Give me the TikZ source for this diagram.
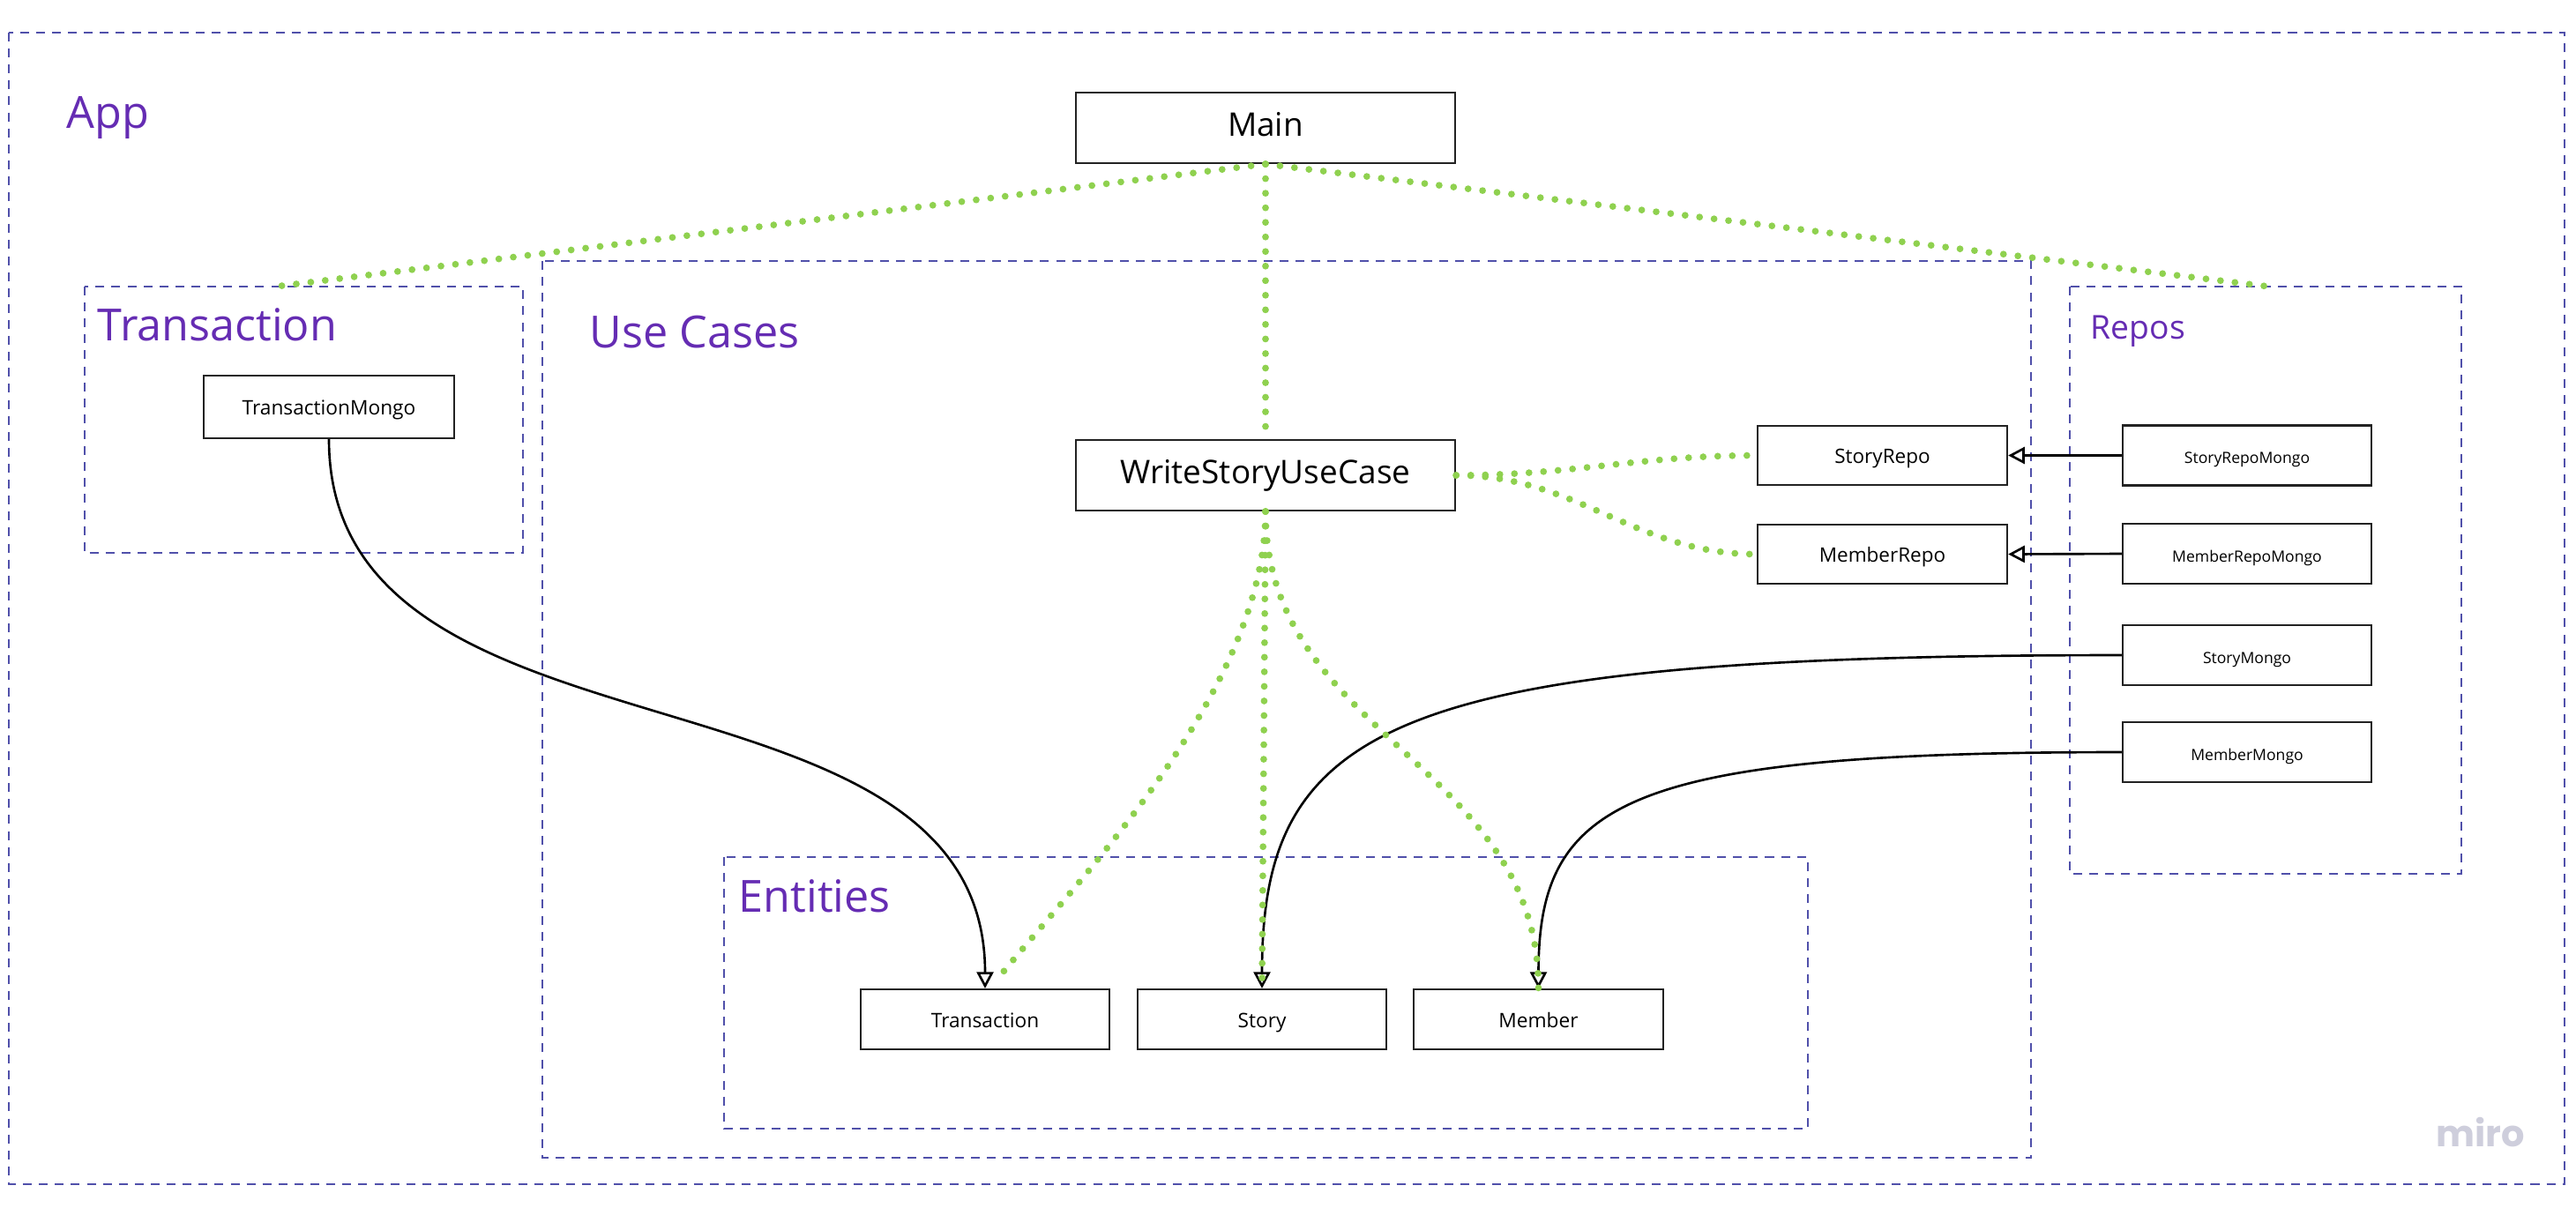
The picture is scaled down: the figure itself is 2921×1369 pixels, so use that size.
\documentclass[tikz,border=0pt]{standalone}
\usepackage{fontspec}
\setmainfont{Open Sans}
\newfontfamily\wmfont{Poppins}
\usetikzlibrary{arrows.meta}
\definecolor{grp}{RGB}{80,80,170}
\definecolor{lab}{RGB}{101,44,179}
\definecolor{grn}{RGB}{143,209,79}
\definecolor{bdr}{RGB}{34,34,34}
\definecolor{wm}{RGB}{206,206,220}
\begin{document}
\begin{tikzpicture}[x=0.01cm,y=-0.01cm,
  group/.style={draw=grp, line width=0.6pt, dash pattern=on 2.85pt off 2.3pt},
  grplabel/.style={text=lab, anchor=base west, inner sep=0pt, font=\fontsize{14.3}{16}\selectfont},
  basebox/.style={draw=bdr, line width=0.6pt, fill=white, inner sep=0pt, text height=0.72em, text depth=0.2em},
  bigbox/.style={basebox, minimum width=4.30cm, minimum height=0.80cm, font=\fontsize{10.5}{12}\selectfont},
  repobox/.style={basebox, minimum width=2.83cm, minimum height=0.67cm, font=\fontsize{6.4}{8}\selectfont},
  mongobox/.style={basebox, minimum width=2.82cm, minimum height=0.68cm, font=\fontsize{5.0}{6}\selectfont},
  entbox/.style={basebox, minimum width=2.82cm, minimum height=0.68cm, font=\fontsize{6.45}{8}\selectfont},
  dep/.style={draw=black, line width=0.75pt, -{Triangle[length=5.3pt, width=5.4pt, fill=white]}},
  greendot/.style={draw=grn, line width=2.2pt, line cap=round, dash pattern=on 0pt off 4.7pt}
]
\useasboundingbox (0,0) rectangle (2921,1369);
\fill[white] (0,0) rectangle (2921,1369);

% containers
\draw[group] (10,37) rectangle (2908,1343);
\draw[group] (96,325) rectangle (593,627);
\draw[group] (615,296) rectangle (2303,1313);
\draw[group] (821,972) rectangle (2050,1280);
\draw[group] (2347,325) rectangle (2791,991);

% container labels
\node[grplabel] (lapp) at (75,145) {App};
\node[grplabel] (ltr) at (110,386) {Transaction};
\node[grplabel] (luc) at (668,394) {Use Cases};
\node[grplabel] (lent) at (837,1034) {Entities};
\node[grplabel, font=\fontsize{10.6}{12}\selectfont] (lrep) at (2370,384) {Repos};

% boxes
\node[bigbox] (main) at (1435,145) {Main};
\node[bigbox] (wsuc) at (1435,539) {WriteStoryUseCase};
\node[repobox] (sr) at (2134.5,516.5) {StoryRepo};
\node[repobox] (mr) at (2134.5,628.5) {MemberRepo};
\node[mongobox] (srm) at (2548,516.5) {StoryRepoMongo};
\node[mongobox] (mrm) at (2548,628) {MemberRepoMongo};
\node[mongobox] (sm) at (2548,743) {StoryMongo};
\node[mongobox] (mm) at (2548,853) {MemberMongo};
\node[entbox, minimum width=2.84cm, minimum height=0.71cm] (tm) at (373,461.5) {TransactionMongo};
\node[entbox] (ten) at (1117,1156) {Transaction};
\node[entbox] (story) at (1431,1156) {Story};
\node[entbox] (member) at (1744.5,1156) {Member};

\coordinate (trtop) at (312,325);
\coordinate (rptop) at (2573,325);
\coordinate (trend) at (1137,1103);

% black dependencies
\draw[dep] (srm.west) -- (sr.east);
\draw[dep] (mrm.west) -- (mr.east);
\draw[dep] (tm.south) .. controls +(0,389) and +(0,-389) .. (ten.north);
\draw[dep] (sm.west) .. controls +(-830,0) and +(0,-300) .. (story.north);
\draw[dep] (mm.west) .. controls +(-563,0) and +(0,-213) .. (member.north);

% green links
\draw[greendot] (main.south) -- (trtop);
\draw[greendot] (main.south) -- (rptop);
\draw[greendot] (main.south) -- (wsuc.north);
\draw[greendot] (wsuc.east) to[out=0,in=180] (sr.west);
\draw[greendot] (wsuc.east) to[out=0,in=180] (mr.west);
\draw[greendot] (wsuc.south) -- (story.north);
\draw[greendot] (wsuc.south) .. controls +(0,255) and +(0,-255) .. (member.north);
\draw[greendot] (wsuc.south) .. controls +(0,199) and +(93,-113) .. (trend);

% watermark
\node[text=wm, anchor=base west, inner sep=0pt, font=\wmfont\bfseries\fontsize{11.8}{13}\selectfont] (miro) at (2762,1300) {miro};
\end{tikzpicture}
\end{document}
